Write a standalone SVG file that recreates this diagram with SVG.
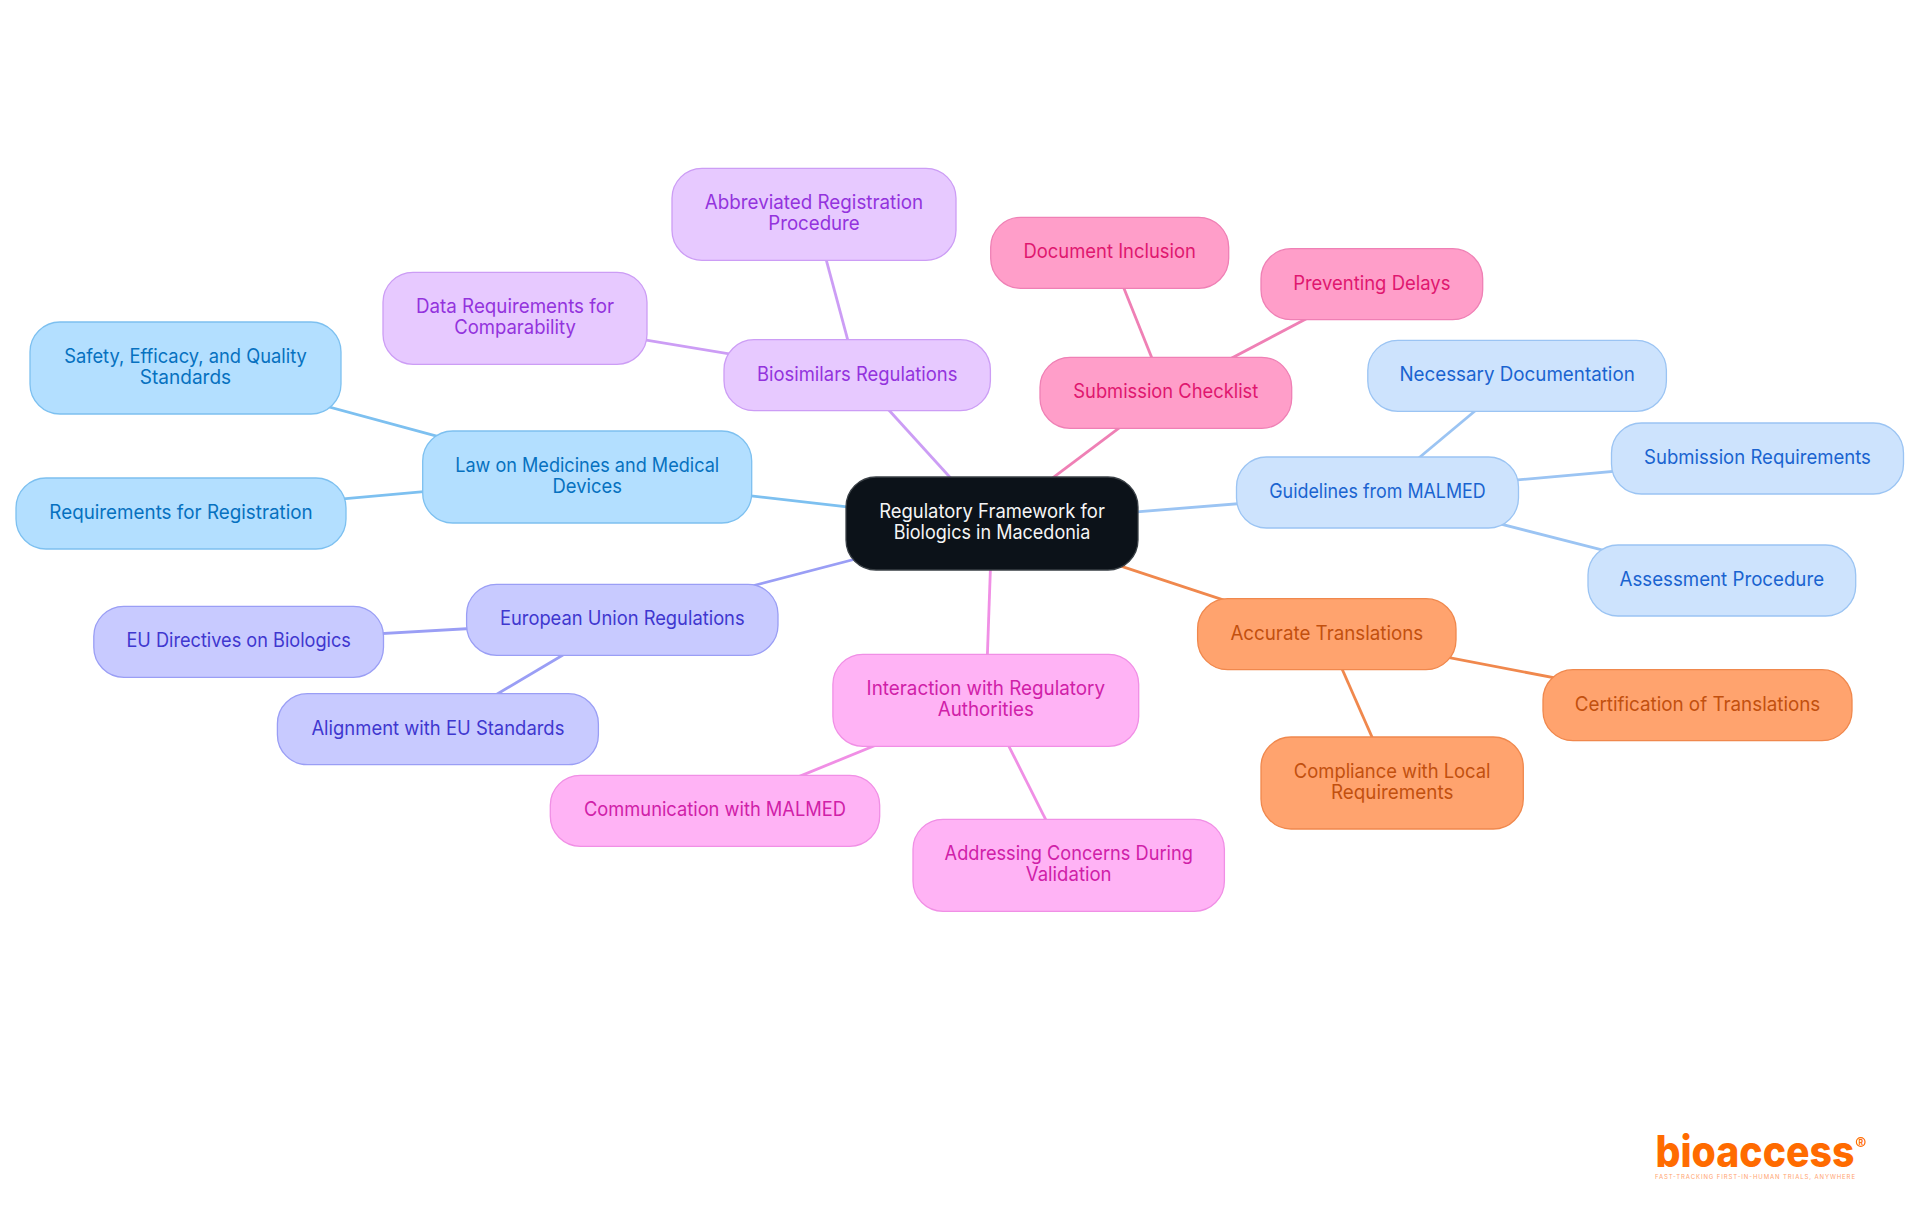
<svg xmlns="http://www.w3.org/2000/svg" width="1920" height="1215" viewBox="0 0 1920 1215">
<style>
text{font-family:"Inter","Liberation Sans",sans-serif;font-size:19.5px;text-anchor:middle;font-weight:400}
.node rect{stroke-width:1.3}
#connectors line{stroke-width:2.8;fill:none}
.sky rect{fill:#b3dfff;stroke:#7dc0f0}.sky text{fill:#0671c0}
.pur rect{fill:#e7c9ff;stroke:#cc9df5}.pur text{fill:#9333dd}
.pnk rect{fill:#ff9ec9;stroke:#ef80b5}.pnk text{fill:#e0176f}
.lbl rect{fill:#cde3fd;stroke:#9bc4f3}.lbl text{fill:#1a63d0}
.org rect{fill:#ffa36e;stroke:#f0884d}.org text{fill:#c2500f}
.mag rect{fill:#ffb3f5;stroke:#f08fe5}.mag text{fill:#d020a8}
.ind rect{fill:#c8caff;stroke:#9a9ef5}.ind text{fill:#3f37cf}
.root rect{fill:#0c1219;stroke:#3a4046}.root text{fill:#f5f5f5}
line.sky{stroke:#7dc0f0}line.pur{stroke:#cc9df5}line.pnk{stroke:#ef80b5}line.lbl{stroke:#9bc4f3}line.org{stroke:#f0884d}line.mag{stroke:#f08fe5}line.ind{stroke:#9a9ef5}
</style>
<rect width="1920" height="1215" fill="#ffffff"/>
<g id="connectors">
<line class="sky" x1="992" y1="523.5" x2="587.2" y2="477"/>
<line class="sky" x1="587.2" y1="477" x2="185.5" y2="368"/>
<line class="sky" x1="587.2" y1="477" x2="181" y2="513.5"/>
<line class="pur" x1="992" y1="523.5" x2="857.2" y2="375.2"/>
<line class="pur" x1="857.2" y1="375.2" x2="814" y2="214.3"/>
<line class="pur" x1="857.2" y1="375.2" x2="515" y2="318.3"/>
<line class="pnk" x1="992" y1="523.5" x2="1165.8" y2="392.8"/>
<line class="pnk" x1="1165.8" y1="392.8" x2="1109.7" y2="252.8"/>
<line class="pnk" x1="1165.8" y1="392.8" x2="1371.8" y2="284.2"/>
<line class="lbl" x1="992" y1="523.5" x2="1377.5" y2="492.5"/>
<line class="lbl" x1="1377.5" y1="492.5" x2="1517.1" y2="375.8"/>
<line class="lbl" x1="1377.5" y1="492.5" x2="1757.5" y2="458.5"/>
<line class="lbl" x1="1377.5" y1="492.5" x2="1721.8" y2="580.5"/>
<line class="org" x1="992" y1="523.5" x2="1326.8" y2="634.2"/>
<line class="org" x1="1326.8" y1="634.2" x2="1697.5" y2="705.2"/>
<line class="org" x1="1326.8" y1="634.2" x2="1392.2" y2="783"/>
<line class="mag" x1="992" y1="523.5" x2="985.8" y2="700.3"/>
<line class="mag" x1="985.8" y1="700.3" x2="715" y2="810.8"/>
<line class="mag" x1="985.8" y1="700.3" x2="1068.7" y2="865.3"/>
<line class="ind" x1="992" y1="523.5" x2="622.3" y2="619.8"/>
<line class="ind" x1="622.3" y1="619.8" x2="238.7" y2="641.8"/>
<line class="ind" x1="622.3" y1="619.8" x2="437.9" y2="729.2"/>
</g>
<g id="n-root" class="node root"><rect x="846" y="477" width="292" height="93" rx="30"/><text x="992" y="518" textLength="225.7" lengthAdjust="spacingAndGlyphs">Regulatory Framework for</text><text x="992" y="539" textLength="196.7" lengthAdjust="spacingAndGlyphs">Biologics in Macedonia</text></g>
<g id="n-law" class="node sky"><rect x="422.7" y="431" width="329" height="92" rx="30"/><text x="587.2" y="472" textLength="264" lengthAdjust="spacingAndGlyphs">Law on Medicines and Medical</text><text x="587.2" y="493" textLength="69.4" lengthAdjust="spacingAndGlyphs">Devices</text></g>
<g id="n-safety" class="node sky"><rect x="30" y="322" width="311" height="92" rx="30"/><text x="185.5" y="363" textLength="242.7" lengthAdjust="spacingAndGlyphs">Safety, Efficacy, and Quality</text><text x="185.5" y="384" textLength="91.3" lengthAdjust="spacingAndGlyphs">Standards</text></g>
<g id="n-req" class="node sky"><rect x="16" y="478" width="330" height="71" rx="30"/><text x="181" y="519" textLength="263.3" lengthAdjust="spacingAndGlyphs">Requirements for Registration</text></g>
<g id="n-bio" class="node pur"><rect x="724" y="339.7" width="266.4" height="71" rx="30"/><text x="857.2" y="380.7" textLength="200.4" lengthAdjust="spacingAndGlyphs">Biosimilars Regulations</text></g>
<g id="n-abbrev" class="node pur"><rect x="672" y="168.3" width="284" height="92" rx="30"/><text x="814" y="209.3" textLength="218.4" lengthAdjust="spacingAndGlyphs">Abbreviated Registration</text><text x="814" y="230.3" textLength="91.4" lengthAdjust="spacingAndGlyphs">Procedure</text></g>
<g id="n-data" class="node pur"><rect x="383" y="272.3" width="264" height="92" rx="30"/><text x="515" y="313.3" textLength="198" lengthAdjust="spacingAndGlyphs">Data Requirements for</text><text x="515" y="334.3" textLength="121.6" lengthAdjust="spacingAndGlyphs">Comparability</text></g>
<g id="n-sub" class="node pnk"><rect x="1040" y="357.3" width="251.7" height="71" rx="30"/><text x="1165.8" y="398.3" textLength="185" lengthAdjust="spacingAndGlyphs">Submission Checklist</text></g>
<g id="n-doc" class="node pnk"><rect x="990.7" y="217.3" width="238" height="71" rx="30"/><text x="1109.7" y="258.3" textLength="172.3" lengthAdjust="spacingAndGlyphs">Document Inclusion</text></g>
<g id="n-prev" class="node pnk"><rect x="1261" y="248.7" width="221.7" height="71" rx="30"/><text x="1371.8" y="289.7" textLength="157.3" lengthAdjust="spacingAndGlyphs">Preventing Delays</text></g>
<g id="n-guide" class="node lbl"><rect x="1236.5" y="457" width="282" height="71" rx="30"/><text x="1377.5" y="498" textLength="216.5" lengthAdjust="spacingAndGlyphs">Guidelines from MALMED</text></g>
<g id="n-nec" class="node lbl"><rect x="1367.8" y="340.3" width="298.6" height="71" rx="30"/><text x="1517.1" y="381.3" textLength="235.3" lengthAdjust="spacingAndGlyphs">Necessary Documentation</text></g>
<g id="n-subreq" class="node lbl"><rect x="1611.5" y="423" width="292" height="71" rx="30"/><text x="1757.5" y="464" textLength="226.8" lengthAdjust="spacingAndGlyphs">Submission Requirements</text></g>
<g id="n-assess" class="node lbl"><rect x="1588" y="545" width="267.7" height="71" rx="30"/><text x="1721.8" y="586" textLength="204.5" lengthAdjust="spacingAndGlyphs">Assessment Procedure</text></g>
<g id="n-acc" class="node org"><rect x="1197.6" y="598.7" width="258.4" height="71" rx="30"/><text x="1326.8" y="639.7" textLength="192.8" lengthAdjust="spacingAndGlyphs">Accurate Translations</text></g>
<g id="n-cert" class="node org"><rect x="1543" y="669.7" width="309" height="71" rx="30"/><text x="1697.5" y="710.7" textLength="245.6" lengthAdjust="spacingAndGlyphs">Certification of Translations</text></g>
<g id="n-comp" class="node org"><rect x="1261" y="737" width="262.3" height="92" rx="30"/><text x="1392.2" y="778" textLength="196.7" lengthAdjust="spacingAndGlyphs">Compliance with Local</text><text x="1392.2" y="799" textLength="122.4" lengthAdjust="spacingAndGlyphs">Requirements</text></g>
<g id="n-inter" class="node mag"><rect x="832.9" y="654.3" width="305.8" height="92" rx="30"/><text x="985.8" y="695.3" textLength="238.4" lengthAdjust="spacingAndGlyphs">Interaction with Regulatory</text><text x="985.8" y="716.3" textLength="96" lengthAdjust="spacingAndGlyphs">Authorities</text></g>
<g id="n-comm" class="node mag"><rect x="550.3" y="775.3" width="329.4" height="71" rx="30"/><text x="715" y="816.3" textLength="262" lengthAdjust="spacingAndGlyphs">Communication with MALMED</text></g>
<g id="n-addr" class="node mag"><rect x="913" y="819.3" width="311.4" height="92" rx="30"/><text x="1068.7" y="860.3" textLength="248.2" lengthAdjust="spacingAndGlyphs">Addressing Concerns During</text><text x="1068.7" y="881.3" textLength="85.7" lengthAdjust="spacingAndGlyphs">Validation</text></g>
<g id="n-eu" class="node ind"><rect x="466.6" y="584.3" width="311.4" height="71" rx="30"/><text x="622.3" y="625.3" textLength="244.7" lengthAdjust="spacingAndGlyphs">European Union Regulations</text></g>
<g id="n-dir" class="node ind"><rect x="93.8" y="606.3" width="289.7" height="71" rx="30"/><text x="238.7" y="647.3" textLength="224.5" lengthAdjust="spacingAndGlyphs">EU Directives on Biologics</text></g>
<g id="n-align" class="node ind"><rect x="277.4" y="693.7" width="321" height="71" rx="30"/><text x="437.9" y="734.7" textLength="253" lengthAdjust="spacingAndGlyphs">Alignment with EU Standards</text></g>
<g id="logo">
<text x="1755" y="1167.3" textLength="199" lengthAdjust="spacingAndGlyphs" style="font-size:44px;font-weight:800;fill:#ff6b00">bioaccess</text>
<circle cx="1860.7" cy="1142" r="4.3" fill="none" stroke="#ff6b00" stroke-width="1.2"/>
<text x="1860.7" y="1144.5" style="font-size:7px;font-weight:700;fill:#ff6b00">R</text>
<text x="1755" y="1178.7" textLength="200" lengthAdjust="spacing" style="font-size:6px;fill:#ffa470">FAST-TRACKING FIRST-IN-HUMAN TRIALS, ANYWHERE</text>
</g>
</svg>
